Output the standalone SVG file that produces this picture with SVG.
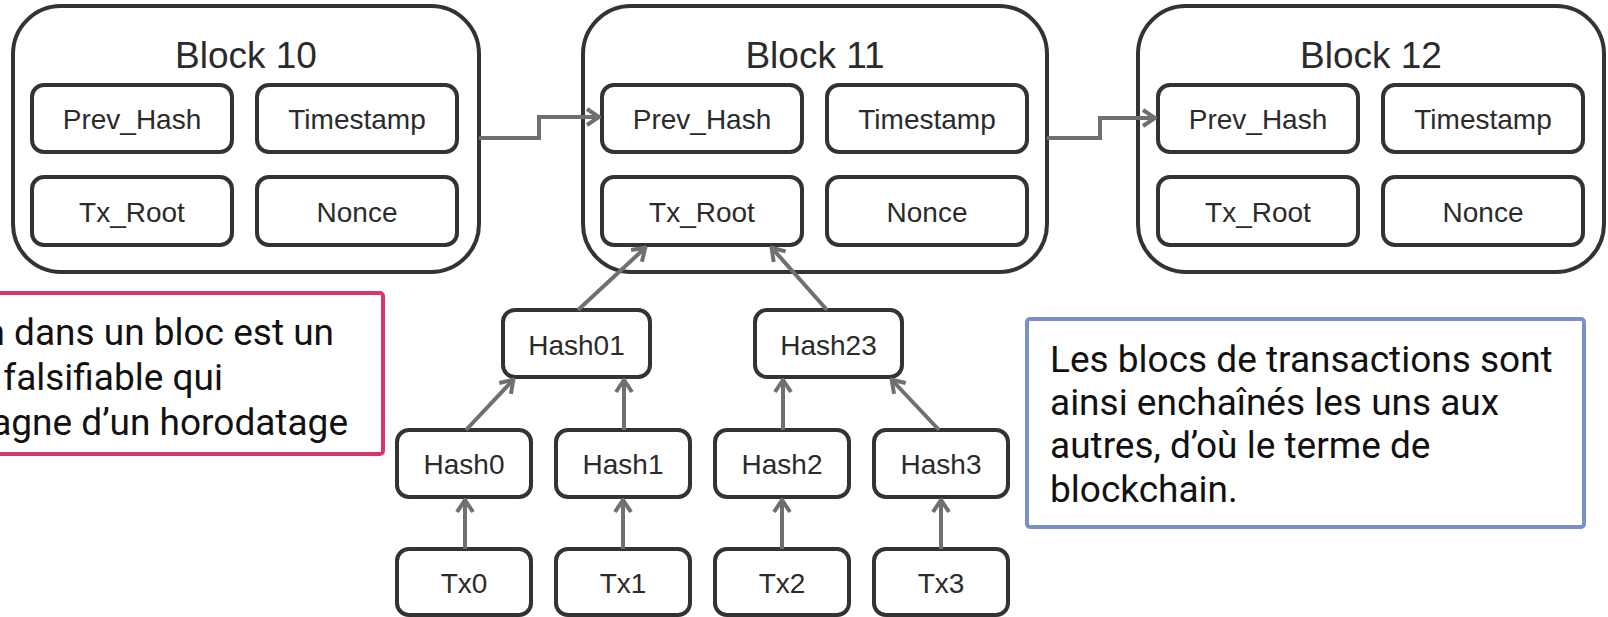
<svg xmlns="http://www.w3.org/2000/svg" width="1608" height="617" viewBox="0 0 1608 617">
<defs>
<style>
.blk{fill:#fff;stroke:#333;stroke-width:4}
.box{fill:#fff;stroke:#333;stroke-width:4}
.ttl{font-family:"Liberation Sans",Arial,sans-serif;font-size:37px;fill:#2b2b2b;text-anchor:middle}
.lbl{font-family:"Liberation Sans",Arial,sans-serif;font-size:28px;fill:#2b2b2b;text-anchor:middle}
.con{fill:none;stroke:#707070;stroke-width:4;marker-end:url(#arr)}
.note{font-family:Roboto,"Liberation Sans",sans-serif;font-size:37px;fill:#111}
</style>
<marker id="arr" viewBox="0 0 16 20" refX="15" refY="10" markerWidth="16" markerHeight="20" markerUnits="userSpaceOnUse" orient="auto">
<path d="M2,2 L14,10 L2,18" fill="none" stroke="#707070" stroke-width="4"/>
</marker>
</defs>
<rect width="1608" height="617" fill="#fff"/>

<g id="block10">
<rect class="blk" x="13" y="6" width="466" height="266" rx="48"/>
<text class="ttl" x="246" y="68">Block 10</text>
<rect class="box" x="32" y="85" width="200" height="67" rx="12"/>
<text class="lbl" x="132" y="129">Prev_Hash</text>
<rect class="box" x="257" y="85" width="200" height="67" rx="12"/>
<text class="lbl" x="357" y="129">Timestamp</text>
<rect class="box" x="32" y="177" width="200" height="68" rx="12"/>
<text class="lbl" x="132" y="222">Tx_Root</text>
<rect class="box" x="257" y="177" width="200" height="68" rx="12"/>
<text class="lbl" x="357" y="222">Nonce</text>
</g>

<g id="block11">
<rect class="blk" x="583" y="6" width="464" height="266" rx="48"/>
<text class="ttl" x="815" y="68">Block 11</text>
<rect class="box" x="602" y="85" width="200" height="67" rx="12"/>
<text class="lbl" x="702" y="129">Prev_Hash</text>
<rect class="box" x="827" y="85" width="200" height="67" rx="12"/>
<text class="lbl" x="927" y="129">Timestamp</text>
<rect class="box" x="602" y="177" width="200" height="68" rx="12"/>
<text class="lbl" x="702" y="222">Tx_Root</text>
<rect class="box" x="827" y="177" width="200" height="68" rx="12"/>
<text class="lbl" x="927" y="222">Nonce</text>
</g>

<g id="block12">
<rect class="blk" x="1138" y="6" width="466" height="266" rx="48"/>
<text class="ttl" x="1371" y="68">Block 12</text>
<rect class="box" x="1158" y="85" width="200" height="67" rx="12"/>
<text class="lbl" x="1258" y="129">Prev_Hash</text>
<rect class="box" x="1383" y="85" width="200" height="67" rx="12"/>
<text class="lbl" x="1483" y="129">Timestamp</text>
<rect class="box" x="1158" y="177" width="200" height="68" rx="12"/>
<text class="lbl" x="1258" y="222">Tx_Root</text>
<rect class="box" x="1383" y="177" width="200" height="68" rx="12"/>
<text class="lbl" x="1483" y="222">Nonce</text>
</g>

<g id="hash01"><rect class="box" x="503" y="310" width="147" height="67" rx="12"/><text class="lbl" x="576.5" y="355">Hash01</text></g>
<g id="hash23"><rect class="box" x="755" y="310" width="147" height="67" rx="12"/><text class="lbl" x="828.5" y="355">Hash23</text></g>
<g id="hash0"><rect class="box" x="397" y="430" width="134" height="67" rx="12"/><text class="lbl" x="464" y="474">Hash0</text></g>
<g id="hash1"><rect class="box" x="556" y="430" width="134" height="67" rx="12"/><text class="lbl" x="623" y="474">Hash1</text></g>
<g id="hash2"><rect class="box" x="715" y="430" width="134" height="67" rx="12"/><text class="lbl" x="782" y="474">Hash2</text></g>
<g id="hash3"><rect class="box" x="874" y="430" width="134" height="67" rx="12"/><text class="lbl" x="941" y="474">Hash3</text></g>
<g id="tx0"><rect class="box" x="397" y="549" width="134" height="66" rx="12"/><text class="lbl" x="464" y="593">Tx0</text></g>
<g id="tx1"><rect class="box" x="556" y="549" width="134" height="66" rx="12"/><text class="lbl" x="623" y="593">Tx1</text></g>
<g id="tx2"><rect class="box" x="715" y="549" width="134" height="66" rx="12"/><text class="lbl" x="782" y="593">Tx2</text></g>
<g id="tx3"><rect class="box" x="874" y="549" width="134" height="66" rx="12"/><text class="lbl" x="941" y="593">Tx3</text></g>

<g id="note-left">
<rect x="-10" y="293" width="393" height="161" rx="3" fill="#fff" stroke="#d6386b" stroke-width="4"/>
<text class="note" text-anchor="end" x="334" y="345">n dans un bloc est un</text>
<text class="note" text-anchor="end" x="223" y="390">falsifiable qui</text>
<text class="note" text-anchor="end" x="348" y="435">agne d’un horodatage</text>
</g>

<g id="note-right">
<rect x="1027" y="319" width="557" height="208" rx="3" fill="#fff" stroke="#7b8fc9" stroke-width="4"/>
<text class="note" x="1050" y="372">Les blocs de transactions sont</text>
<text class="note" x="1050" y="415">ainsi enchaînés les uns aux</text>
<text class="note" x="1050" y="458">autres, d’où le terme de</text>
<text class="note" x="1050" y="502">blockchain.</text>
</g>

<g id="connectors">
<path class="con" d="M479,138 H539 V117 H600"/>
<path class="con" d="M1047,138 H1100 V118 H1156"/>
<path class="con" d="M465,549 V499"/>
<path class="con" d="M623,549 V499"/>
<path class="con" d="M782,549 V499"/>
<path class="con" d="M941,549 V499"/>
<path class="con" d="M466,430 L514,379"/>
<path class="con" d="M624,430 V379"/>
<path class="con" d="M783,430 V379"/>
<path class="con" d="M939,430 L891,379"/>
<path class="con" d="M578,310 L646,247"/>
<path class="con" d="M827,310 L771,247"/>
</g>
</svg>
